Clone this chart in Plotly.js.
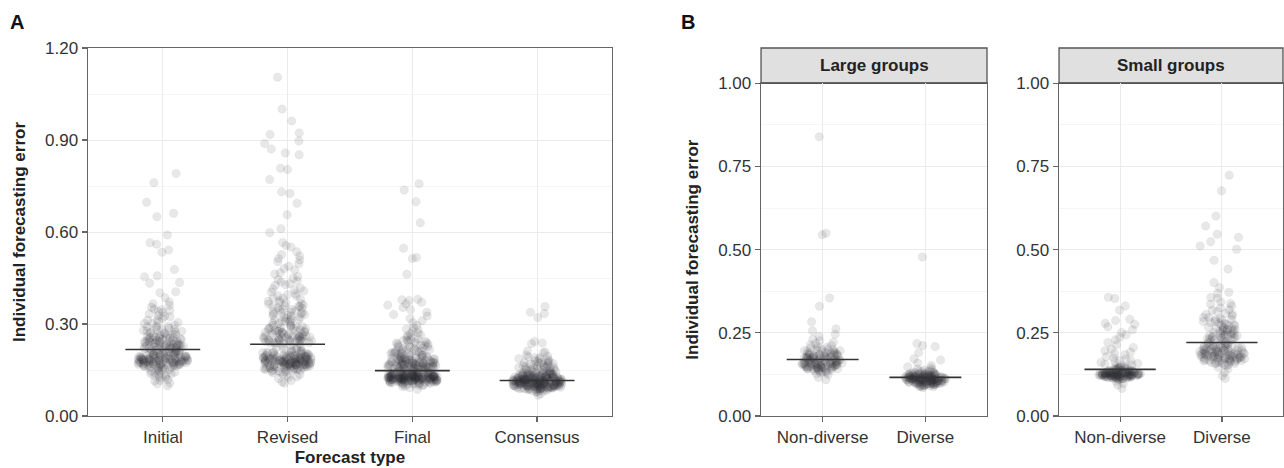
<!DOCTYPE html>
<html>
<head>
<meta charset="utf-8">
<script src="https://cdn.plot.ly/plotly-3.0.1.min.js"></script>
<style>
  html, body { margin: 0; padding: 0; background: #ffffff; }
  #chart { width: 1284px; height: 468px; }
</style>
</head>
<body>
<div id="chart"></div>
<script>
// ---------------- Panel A data ----------------
const forecastTypes = ["Initial", "Revised", "Final", "Consensus"];

const initialErr = [
  0.791,0.761,0.697,0.661,0.650,0.590,0.565,0.560,0.541,0.534,0.478,0.457,0.454,0.435,0.433,0.405,0.402,0.386,
  0.372,0.366,0.361,0.355,0.349,0.344,0.341,0.338,0.333,0.327,0.324,0.318,0.314,0.309,0.305,0.302,
  0.212,0.187,0.243,0.165,0.198,0.276,0.139,0.221,0.183,0.258,0.171,0.205,0.149,0.233,0.192,0.288,0.127,0.176,0.214,0.262,
  0.181,0.157,0.226,0.195,0.119,0.248,0.168,0.203,0.285,0.174,0.136,0.239,0.189,0.211,0.161,0.271,0.143,0.197,0.229,0.178,
  0.254,0.186,0.108,0.219,0.166,0.293,0.201,0.153,0.245,0.182,0.131,0.224,0.191,0.268,0.172,0.209,0.146,0.236,0.185,0.297,
  0.163,0.217,0.124,0.252,0.194,0.178,0.231,0.159,0.282,0.199,0.141,0.206,0.175,0.263,0.188,0.114,0.241,0.169,0.222,0.184,
  0.134,0.257,0.196,0.174,0.279,0.151,0.215,0.181,0.099,0.233,0.167,0.202,0.247,0.179,0.128,0.219,0.193,0.266,0.155,0.208,
  0.186,0.238,0.171,0.291,0.145,0.227,0.189,0.116,0.254,0.177,0.213,0.162,0.273,0.198,0.137,0.243,0.183,0.225,0.105,0.195,
  0.176,0.183,0.168,0.191,0.172,0.186,0.179,0.164,0.188,0.174,0.181,0.169,0.193,0.177,0.185,0.166,0.182,0.173,0.189,0.178,
  0.187,0.203,0.176,0.219,0.192,0.165,0.231,0.184,0.208,0.171,0.196,0.158,0.224,0.181,0.212,0.169,0.247,0.189,0.201,0.174,
  0.163,0.216,0.185,0.237,0.178,0.194,0.152,0.209,0.182,0.226,0.173,0.199,0.167,0.241,0.186,0.205,0.179,0.221,0.161,0.193,
  0.214,0.177,0.232,0.188,0.156,0.207,0.183,0.251,0.171,0.198,
  0.228,0.256,0.239,0.271,0.223,0.264,0.245,0.283,0.234,0.258,0.312,0.249,0.276,0.229,0.347,0.261,0.238,0.293,0.252,0.226,
  0.268,0.325,0.243,0.281,0.236,0.255,0.302,0.233,0.274,0.247
];

const revisedErr = [
  1.105,1.001,0.962,0.923,0.918,0.897,0.889,0.871,0.858,0.852,0.808,0.804,0.771,0.731,0.726,0.694,0.656,0.611,0.598,0.566,
  0.556,0.551,0.536,0.527,0.522,0.514,0.509,0.503,0.497,0.488,0.481,0.476,0.467,0.463,0.455,0.449,0.444,0.437,0.431,0.426,
  0.417,0.412,0.404,0.399,0.391,0.386,0.381,0.374,0.371,0.366,0.359,0.357,0.351,0.346,0.341,0.337,0.333,0.328,0.322,0.317,
  0.314,0.309,0.303,
  0.172,0.158,0.191,0.183,0.166,0.204,0.149,0.177,0.195,0.162,0.187,0.141,0.211,0.175,0.168,0.199,0.153,0.181,0.226,0.164,
  0.192,0.137,0.179,0.208,0.171,0.156,0.186,0.219,0.167,0.194,0.146,0.182,0.173,0.201,0.128,0.189,0.161,0.215,0.176,0.152,
  0.197,0.184,0.169,0.122,0.206,0.178,0.159,0.188,0.231,0.174,0.143,0.196,0.165,0.185,0.213,0.157,0.179,0.116,0.202,0.171,
  0.193,0.148,0.183,0.224,0.163,0.176,0.135,0.198,0.186,0.168,0.209,0.154,0.181,0.111,0.192,0.174,0.228,0.161,0.187,0.145,
  0.203,0.177,0.166,0.218,0.189,0.132,0.172,0.195,0.158,0.184,0.107,0.199,0.169,0.221,0.179,0.151,0.191,0.126,0.207,0.176,
  0.241,0.258,0.272,0.247,0.286,0.263,0.238,0.279,0.252,0.295,0.244,0.268,0.256,0.283,0.249,0.274,0.237,0.291,0.261,0.246,
  0.277,0.254,0.298,0.243,0.266,0.259,0.281,0.251,0.239,0.271,0.288,0.262,0.245,0.276,0.257,0.293,0.248,
  0.178,0.163,0.187,0.171,0.195,0.158,0.182,0.166,0.204,0.175,0.189,0.152,0.173,0.197,0.168,0.184,0.161,0.209,0.177,0.192,
  0.155,0.181,0.169,0.198,0.174,0.186,0.147,0.193,0.165,0.179,0.201,0.172,0.188,0.159,0.183,0.176,0.212,0.167,0.191,0.154,
  0.185,0.173,0.196,0.162,0.179,0.207,0.169,0.188,0.157,0.181,0.194,0.171,0.186,0.164,0.199,0.176,0.183,0.149,0.192,0.168,
  0.243,0.267,0.251,0.284,0.239,0.272,0.256,0.296,0.247,0.263,0.278,0.241,0.259,0.289,0.253,0.236,0.274,0.249,0.265,0.282,
  0.245,0.269,0.257,0.291,0.238,0.276,0.261,0.248,0.286,0.254,
  0.312,0.347,0.329,0.384,0.306,0.358,0.337,0.415,0.321,0.369,0.343,0.396,0.318,0.353,0.334,0.428,0.309,0.377,0.326,0.362,
  0.441,0.315,0.349,0.392,0.331,0.365,0.302,0.408,0.339,0.357
];

const finalErr = [
  0.757,0.737,0.699,0.630,0.547,0.517,0.514,0.462,0.381,0.379,0.377,0.371,0.366,0.362,0.354,0.347,0.338,0.331,0.326,0.318,0.311,0.304,
  0.262,0.231,0.288,0.214,0.249,0.205,0.276,0.238,0.219,0.296,0.226,0.257,0.209,0.243,0.281,0.217,0.235,0.203,0.268,0.222,
  0.252,0.211,0.246,0.228,0.271,0.207,0.239,0.215,0.259,0.201,0.233,0.224,0.213,0.241,0.206,
  0.172,0.188,0.164,0.195,0.157,0.181,0.169,0.152,0.191,0.176,0.161,0.184,0.198,0.167,0.155,
  0.179,0.186,0.162,0.173,0.193,0.158,0.171,0.183,0.151,0.166,0.189,0.175,0.159,0.197,0.168,
  0.127,0.118,0.134,0.109,0.142,0.121,0.131,0.114,0.138,0.125,0.103,0.129,0.146,0.117,0.133,0.122,0.108,0.137,0.126,0.115,
  0.141,0.119,0.131,0.098,0.128,0.136,0.112,0.124,0.144,0.121,0.133,0.106,0.127,0.139,0.117,0.123,0.148,0.113,0.131,0.126,
  0.092,0.135,0.119,0.128,0.141,0.111,0.124,0.137,0.116,0.129,0.132,0.104,0.122,0.145,0.118,0.127,0.138,0.114,0.125,0.134,
  0.101,0.121,0.143,0.116,0.129,0.136,0.109,0.123,0.131,0.087,0.126,0.139,0.113,0.124,0.147,0.119,0.132,0.107,0.128,0.135,
  0.122,0.129,0.117,0.133,0.126,0.111,0.138,0.124,0.119,0.131,0.127,0.114,0.136,0.121,0.128,0.106,0.134,0.123,0.118,0.141,
  0.124,0.117,0.131,0.109,0.127,0.138,0.113,0.122,0.135,0.119,0.128,0.104,0.133,0.121,0.116,0.142,0.126,0.111,0.129,0.124,
  0.137,0.118,0.125,0.099,0.132,0.121,0.114,0.139,0.127,0.123,0.108,0.130,0.119,0.134,0.126,0.115,0.128,0.143,0.122,0.117,
  0.131,0.125,0.112,0.136,0.120,0.129,0.106,0.124,0.133,0.118,0.127,0.140,0.115,0.123,0.130,0.110,0.126,0.121,0.135,0.119,
  0.096,0.128,0.124,0.137,0.116,0.131,0.122,0.145,0.113,0.127,0.120,0.134,0.118,0.125,0.102,0.129,0.123,0.138,0.117,0.132,
  0.156,0.171,0.163,0.188,0.152,0.179,0.166,0.194,0.159,0.174,0.183,0.161,0.201,0.168,0.154,0.177,0.192,0.165,0.186,0.157,
  0.172,0.211,0.162,0.181,0.153,0.196,0.169,0.178,0.224,0.158,0.185,0.164,0.173,0.237,0.155,0.189,0.167,0.205,0.176,0.151,
  0.163,0.182,0.248,0.171,0.159,0.198,0.166,0.216,0.175,0.154,0.187,0.161,0.229,0.169,0.192,0.157,0.178,0.264,0.164,0.181,
  0.156,0.203,0.172,0.167,0.243,0.184,0.158,0.174,0.219,0.162,0.191,0.168,0.283,0.155,0.177,0.207,0.163,0.185,0.231,0.173
];

const consensusErr = [
  0.357,0.338,0.334,0.321,0.243,0.238,0.236,0.212,0.209,0.206,
  0.196,0.172,0.184,0.163,0.191,0.155,0.178,0.168,0.187,0.159,0.174,0.152,0.193,0.166,0.181,0.157,0.171,0.199,0.162,0.177,0.154,0.186,0.169,0.158,0.175,
  0.112,0.098,0.124,0.105,0.131,0.117,0.089,0.121,0.108,0.136,0.114,0.095,0.127,0.102,0.119,0.141,0.111,0.093,0.125,0.106,
  0.133,0.116,0.099,0.122,0.109,0.087,0.128,0.113,0.138,0.104,0.118,0.096,0.126,0.107,0.145,0.115,0.091,0.123,0.101,0.132,
  0.110,0.094,0.120,0.103,0.129,0.114,0.083,0.119,0.106,0.137,0.112,0.097,0.124,0.108,0.143,0.116,0.092,0.121,0.100,0.130,
  0.113,0.078,0.118,0.105,0.127,0.111,0.096,0.122,0.109,0.148,0.115,0.090,0.125,0.102,0.134,0.117,0.086,0.120,0.107,0.139,
  0.111,0.098,0.123,0.104,0.128,0.114,0.072,0.119,0.101,0.131,0.116,0.094,0.126,0.108,0.142,0.110,0.089,0.121,0.103,0.135,
  0.113,0.097,0.124,0.106,0.129,0.118,0.081,0.122,0.100,0.146,0.112,0.093,0.127,0.105,0.133,0.115,0.088,0.120,0.109,0.140,
  0.114,0.099,0.125,0.068,0.117,0.107,0.130,0.111,0.095,0.123,0.104,0.136,0.119,0.091,0.128,
  0.104,0.097,0.112,0.089,0.118,0.101,0.093,0.109,0.121,0.098,0.086,0.114,0.103,0.095,0.119,0.107,0.091,0.111,0.099,0.124,
  0.102,0.088,0.116,0.096,0.108,0.082,0.113,0.100,0.094,0.117,0.105,0.090,0.110,0.098,0.122,0.103,0.087,0.115,0.097,0.106,
  0.092,0.119,0.101,0.084,0.112,0.099,0.108,0.095,0.123,0.104,0.089,0.113,0.100,0.117,0.093,0.106,0.079,0.110,0.098,0.120,
  0.128,0.139,0.153,0.131,0.146,0.168,0.134,0.142,0.159,0.127,0.137,0.181,0.144,0.129,0.152,0.136,0.164,0.141,0.126,0.149,
  0.133,0.173,0.138,0.157,0.131,0.145,0.191,0.135,0.148,0.162
];

// Median line per forecast type
const medianA = [0.217, 0.234, 0.148, 0.116];

// ---------------- Panel B data ----------------
const groupTypes = ["Non-diverse", "Diverse"];
const facetNames = ["Large groups", "Small groups"];

const largeNonDiverse = [
  0.839,0.549,0.545,0.355,0.330,0.283,0.262,0.256,
  0.171,0.152,0.188,0.143,0.205,0.163,0.137,0.226,0.158,0.181,0.147,0.196,0.166,0.129,0.214,0.155,0.174,0.141,0.239,0.161,
  0.184,0.149,0.199,0.134,0.168,0.209,0.153,0.177,0.145,0.191,0.124,0.162,0.231,0.157,0.186,0.139,0.172,0.203,0.151,0.179,
  0.144,0.218,0.165,0.131,0.193,0.156,0.176,0.109,0.246,0.159,0.183,0.148,0.201,0.136,0.169,0.222,0.154,0.175,0.142,0.189,
  0.127,0.164,0.207,0.150,0.178,0.138,0.197,0.160,0.116,0.185,0.146,0.212,0.167,0.133,0.173,0.152,0.148,0.157,0.144,0.155,
  0.158,0.176,0.149,0.183,0.162,0.171,0.145,0.188,0.155,0.179,0.166,0.142,0.192,0.159,0.174,0.151,0.185,0.163,0.197,0.147,
  0.177,0.156,0.168,0.139,0.181,0.161,0.173,0.153,0.189,0.165,0.143,0.178,0.157,0.194,0.169,0.148,0.182,0.154,0.172,0.161,
  0.186,0.146,0.175,0.158,0.199,0.152,0.167,0.141,0.184,0.163
];
const largeDiverse = [
  0.478,0.218,0.212,0.209,0.191,0.172,0.168,
  0.116,0.104,0.127,0.098,0.121,0.109,0.133,0.092,0.118,0.112,0.141,0.101,0.124,0.107,0.115,0.088,0.129,0.113,0.097,0.122,
  0.106,0.136,0.119,0.094,0.111,0.126,0.103,0.117,0.148,0.099,0.123,0.108,0.114,0.131,0.096,0.120,0.105,0.085,0.125,0.110,
  0.138,0.102,0.116,0.093,0.128,0.107,0.119,0.100,0.145,0.113,0.124,0.095,0.111,0.134,0.104,0.121,0.089,0.117,0.108,0.152,
  0.126,0.098,0.114,0.103,0.130,0.112,0.091,0.122,0.106,0.159,0.118,0.101,0.127,0.109,0.139,0.115,0.097,0.123,0.113,0.119,
  0.112,0.104,0.119,0.097,0.115,0.108,0.123,0.101,0.117,0.093,0.110,0.126,0.105,0.114,0.099,0.121,0.107,0.116,0.091,0.113,
  0.118,0.102,0.124,0.109,0.096,0.115,0.111,0.129,0.103,0.117,0.094,0.112,0.106,0.120,0.100,0.114,0.108,0.132,0.098,0.116,
  0.111,0.103,0.122,0.095,0.113,0.107,0.119,0.101,0.125,0.109,0.097,0.115,0.104,0.118,0.092,0.112,0.106,0.127,0.100,0.114,
  0.110,0.121,0.099,0.116,0.105,0.088,0.113,0.108,0.134,0.102
];
const smallNonDiverse = [
  0.357,0.353,0.331,0.318,0.291,0.287,0.279,0.276,0.268,0.259,0.251,0.244,0.237,0.229,0.221,0.214,0.206,0.201,
  0.132,0.121,0.145,0.127,0.158,0.118,0.139,0.124,0.171,0.129,0.113,0.136,0.149,0.122,0.184,0.126,0.141,0.117,0.131,0.163,
  0.109,0.128,0.152,0.123,0.137,0.192,0.119,0.134,0.125,0.146,0.115,0.167,0.129,0.121,0.142,0.178,0.126,0.131,0.112,0.155,
  0.123,0.138,0.098,0.127,0.144,0.119,0.188,0.133,0.124,0.161,0.116,0.129,0.147,0.122,0.135,0.083,0.127,0.174,0.118,0.139,
  0.125,0.153,0.111,0.131,0.196,0.124,0.143,0.093,0.128,0.166,0.121,0.136,0.119,0.149,0.126,0.132,0.104,0.125,0.122,0.128,
  0.124,0.118,0.129,0.121,0.133,0.116,0.127,0.122,0.138,0.119,0.126,0.113,0.131,0.123,0.117,0.128,0.135,0.120,0.125,0.114,
  0.130,0.122,0.127,0.141,0.118,0.124,0.132,0.115,0.126,0.121,0.129,0.119,0.136,0.123,0.112,0.128,0.125,0.133,0.117,0.124,
  0.120,0.131,0.126,0.143,0.118,0.127,0.122,0.134,0.116,0.129,0.123,0.137,0.121,0.126,0.111,0.130,0.124,0.119,0.132,0.125
];
const smallDiverse = [
  0.724,0.677,0.601,0.571,0.546,0.537,0.524,0.501,0.511,0.468,0.442,0.401,0.386,0.372,0.369,0.356,0.354,0.343,0.336,0.331,0.325,0.318,0.314,0.309,0.305,0.301,
  0.296,0.289,0.284,0.278,0.272,0.267,0.263,0.258,0.254,0.249,0.245,0.241,0.236,0.232,0.228,0.225,
  0.293,0.281,0.274,0.261,0.252,0.243,0.238,0.233,0.229,0.226,
  0.184,0.203,0.171,0.216,0.192,0.158,0.207,0.177,0.221,0.188,0.165,0.199,0.181,0.213,0.174,0.146,0.195,0.186,0.209,0.168,
  0.179,0.201,0.155,0.189,0.218,0.172,0.194,0.162,0.183,0.205,0.176,0.131,0.197,0.187,0.214,0.169,0.191,0.152,0.178,0.211,
  0.185,0.164,0.198,0.174,0.121,0.193,0.181,0.206,0.167,0.189,0.141,0.202,0.176,0.218,0.113,0.186,0.159,0.197,0.171,0.208,
  0.178,0.193,0.167,0.205,0.184,0.159,0.198,0.172,0.214,0.188,0.163,0.181,0.196,0.174,0.209,0.169,0.186,0.153,0.201,0.177,
  0.192,0.165,0.183,0.218,0.171,0.195,0.157,0.189,0.175,0.207,0.182,0.161,0.199,0.173,0.212,0.179,0.191,0.168,0.185,0.203,
  0.234,0.262,0.247,0.289,0.239,0.271,0.253,0.306,0.244,0.278,0.258,0.231,0.296,0.249,0.267,0.237,0.319,0.256,0.242,0.284,
  0.227,0.273,0.251,0.338,0.264,0.241,0.291,0.229,0.259,0.276
];

// Median lines per facet
const medianLarge = [0.170, 0.116];
const medianSmall = [0.140, 0.221];

// ---------------- Build figure ----------------
const FONT = "Liberation Sans, Arial, Helvetica, sans-serif";
const PT_FILL = "rgba(45,45,55,0.11)";
const PT_EDGE = "rgba(45,45,55,0.08)";
const GRID = "#ebebeb";
const MINOR_GRID = "#f5f5f5";
const AXIS_LINE = "#666666";

// Split each group's values into rank bands so that Plotly's density-scaled
// jitter spreads sparse upper values as widely as the dense core.
const BAND_CUTS = [0, 0.8, 0.94, 1];

function jitterTraces(cats, seriesList, xa, ya, boxWidth) {
  const out = [];
  for (let b = 0; b < BAND_CUTS.length - 1; b++) {
    const xs = [], ys = [];
    seriesList.forEach((vals, i) => {
      const sorted = vals.slice().sort((p, q) => p - q);
      const n = sorted.length;
      const lo = Math.floor(n * BAND_CUTS[b]), hi = Math.floor(n * BAND_CUTS[b + 1]);
      sorted.slice(lo, hi).forEach(v => { xs.push(cats[i]); ys.push(v); });
    });
    out.push({
      type: "box", x: xs, y: ys, xaxis: xa, yaxis: ya,
      boxpoints: "all", jitter: 1, pointpos: 0, width: boxWidth,
      fillcolor: "rgba(0,0,0,0)", line: { width: 0, color: "rgba(0,0,0,0)" },
      whiskerwidth: 0,
      marker: { size: 8.5, color: PT_FILL, line: { width: 0.6, color: PT_EDGE } },
      hoverinfo: "y", showlegend: false
    });
  }
  return out;
}

const traces = [].concat(
  jitterTraces(forecastTypes, [initialErr, revisedErr, finalErr, consensusErr], "x", "y", 0.4),
  jitterTraces(groupTypes, [largeNonDiverse, largeDiverse], "x2", "y2", 0.47),
  jitterTraces(groupTypes, [smallNonDiverse, smallDiverse], "x3", "y3", 0.47)
);

const shapes = [];
function medianShapes(meds, xref, yref, half) {
  meds.forEach((m, i) => {
    shapes.push({ type: "line", xref: xref, yref: yref, x0: i - half, x1: i + half, y0: m, y1: m,
                  line: { color: "#333333", width: 1.6 }, layer: "above" });
  });
}
medianShapes(medianA, "x", "y", 0.3);
medianShapes(medianLarge, "x2", "y2", 0.35);
medianShapes(medianSmall, "x3", "y3", 0.35);

// Facet strips
const stripY0 = 0.822, stripY1 = 0.8974;
const facetDomains = [[0.5927, 0.7687], [0.8248, 0.9992]];
facetDomains.forEach(d => {
  shapes.push({ type: "rect", xref: "paper", yref: "paper", x0: d[0], x1: d[1], y0: stripY0, y1: stripY1,
                fillcolor: "#e0e0e0", line: { color: "#555555", width: 1.3 }, layer: "below" });
});

const annotations = [
  { text: "<b>A</b>", xref: "paper", yref: "paper", x: 0.0132, y: 0.954, xanchor: "center", yanchor: "middle",
    showarrow: false, font: { family: FONT, size: 20, color: "#111" } },
  { text: "<b>B</b>", xref: "paper", yref: "paper", x: 0.5358, y: 0.954, xanchor: "center", yanchor: "middle",
    showarrow: false, font: { family: FONT, size: 20, color: "#111" } }
];
facetDomains.forEach((d, i) => {
  annotations.push({ text: "<b>" + facetNames[i] + "</b>", xref: "paper", yref: "paper",
    x: (d[0] + d[1]) / 2, y: (stripY0 + stripY1) / 2, xanchor: "center", yanchor: "middle", showarrow: false,
    font: { family: FONT, size: 17, color: "#222" } });
});

function xAxis(domain, anchor, cats, titleText) {
  const ax = {
    domain: domain, anchor: anchor, type: "category", categoryorder: "array", categoryarray: cats,
    range: [-0.6, cats.length - 0.4], showgrid: true, gridcolor: GRID, gridwidth: 1,
    showline: true, linecolor: AXIS_LINE, linewidth: 1.4, mirror: true,
    ticks: "outside", ticklen: 5, tickwidth: 1.2, tickcolor: AXIS_LINE,
    tickfont: { family: FONT, size: 17, color: "#333" }, zeroline: false, fixedrange: true
  };
  if (titleText) ax.title = { text: "<b>" + titleText + "</b>", font: { family: FONT, size: 17, color: "#222" }, standoff: 5 };
  return ax;
}
function yAxis(domain, anchor, rng, dt, titleText) {
  const ax = {
    domain: domain, anchor: anchor, range: rng, dtick: dt, tick0: 0, tickformat: ".2f",
    showgrid: true, gridcolor: GRID, gridwidth: 1,
    minor: { dtick: dt / 2, showgrid: true, gridcolor: MINOR_GRID, gridwidth: 1, ticks: "" },
    showline: true, linecolor: AXIS_LINE, linewidth: 1.4, mirror: true,
    ticks: "outside", ticklen: 5, tickwidth: 1.2, tickcolor: AXIS_LINE,
    tickfont: { family: FONT, size: 17, color: "#333" }, zeroline: false, fixedrange: true
  };
  if (titleText) ax.title = { text: "<b>" + titleText + "</b>", font: { family: FONT, size: 17, color: "#222" }, standoff: 15 };
  return ax;
}

const yDomA = [0.1111, 0.8974];
const yDomB = [0.1111, 0.822];

const layout = {
  width: 1284, height: 468,
  margin: { l: 0, r: 0, t: 0, b: 0 },
  paper_bgcolor: "#ffffff", plot_bgcolor: "#ffffff",
  font: { family: FONT, color: "#333" },
  showlegend: false,
  boxmode: "overlay",
  xaxis: xAxis([0.0685, 0.4766], "y", forecastTypes, "Forecast type"),
  yaxis: yAxis(yDomA, "x", [0, 1.2], 0.3, "Individual forecasting error"),
  xaxis2: xAxis(facetDomains[0], "y2", groupTypes, null),
  yaxis2: yAxis(yDomB, "x2", [0, 1], 0.25, "Individual forecasting error"),
  xaxis3: xAxis(facetDomains[1], "y3", groupTypes, null),
  yaxis3: yAxis(yDomB, "x3", [0, 1], 0.25, null),
  shapes: shapes,
  annotations: annotations
};

Plotly.newPlot("chart", traces, layout, { staticPlot: true, displayModeBar: false });
</script>
</body>
</html>
